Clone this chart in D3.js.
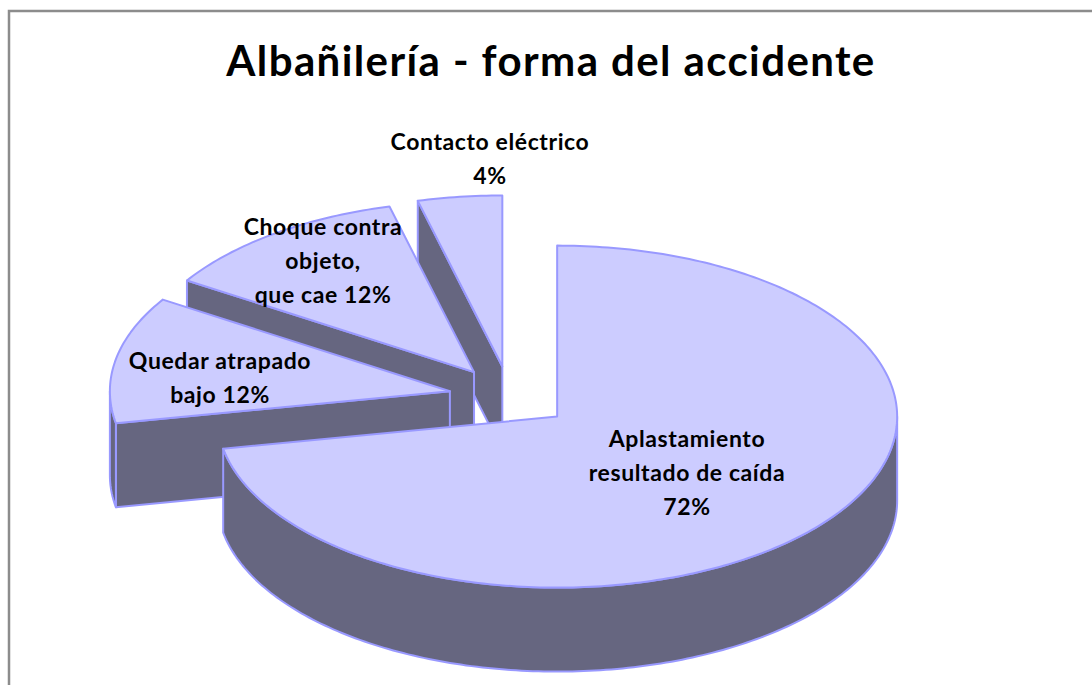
<!DOCTYPE html>
<html>
<head>
<meta charset="utf-8">
<script src="https://cdn.jsdelivr.net/npm/d3@7"></script>
<title>Albañilería - forma del accidente</title>
<style>
  html, body { margin: 0; padding: 0; background: #fff; overflow: hidden; }
  text { font-family: Lato, "Open Sans", sans-serif; font-weight: 700; fill: #000; text-anchor: middle; }
</style>
</head>
<body>
<script>
// values, in drawing order of the pie (clockwise from 12 o'clock)
var categories = ["Aplastamiento resultado de caída", "Quedar atrapado bajo", "Choque contra objeto, que cae", "Contacto eléctrico"];
var values = [72, 12, 12, 4];
var labelLines = [
  ["Aplastamiento", "resultado de caída", "72%"],
  ["Quedar atrapado", "bajo 12%"],
  ["Choque contra", "objeto,", "que cae 12%"],
  ["Contacto eléctrico", "4%"]
];
var labelPos = [[687, 447], [220, 369], [323, 235], [490, 150]];
var title = "Albañilería - forma del accidente";

var width = 1092, height = 685;
var cx = 510, cy = 397, rx = 340, ry = 171, depth = 84, explode = 0.18;
var topFill = "#ccccff", sideFill = "#666680", edge = "#9999ff";

var svg = d3.select("body").append("svg")
    .attr("width", width)
    .attr("height", height);

// chart frame, runs off the window on the right and at the bottom
svg.append("rect")
    .attr("x", 9).attr("y", 11)
    .attr("width", width + 20).attr("height", height + 20)
    .attr("fill", "#fff")
    .attr("stroke", "#8c8c8c")
    .attr("stroke-width", 2.5);

svg.append("text")
    .attr("x", 551).attr("y", 76)
    .style("font-size", "42px")
    .style("letter-spacing", "1.4px")
    .text(title);

var x = d3.scaleLinear().domain([-1, 1]).range([cx - rx, cx + rx]);
var y = d3.scaleLinear().domain([-1, 1]).range([cy - ry, cy + ry]);

var pie = d3.pie().sort(null)(values);
var line = d3.line();

// point on the tilted disc, r = 0 is the slice apex
function pt(d, a, r, drop) {
  var m = (d.startAngle + d.endAngle) / 2;
  return [
    x(explode * Math.sin(m) + r * Math.sin(a)),
    y(-explode * Math.cos(m) - r * Math.cos(a)) + (drop || 0)
  ];
}

function arcPts(d, a0, a1, drop) {
  var n = Math.max(2, Math.ceil((a1 - a0) * 60));
  return d3.range(n + 1).map(function(i) {
    return pt(d, a0 + (a1 - a0) * i / n, 1, drop);
  });
}

function face(pts, fill) {
  svg.append("path")
      .attr("d", line(pts) + "Z")
      .attr("fill", fill)
      .attr("stroke", edge)
      .attr("stroke-width", 2)
      .attr("stroke-linejoin", "round");
}

function cut(d, a) {
  face([pt(d, a, 0), pt(d, a, 1), pt(d, a, 1, depth), pt(d, a, 0, depth)], sideFill);
}

// paint back to front: the small slices first, the big one last
d3.range(pie.length - 1, -1, -1).forEach(function(i) {
  var d = pie[i];

  // a cut face shows only if going down from its top edge leaves the slice
  if (Math.sin(d.startAngle) < -1e-6) cut(d, d.startAngle);
  if (Math.sin(d.endAngle) > 1e-6) cut(d, d.endAngle);

  // outer wall, only the part that looks at the viewer
  var a0 = Math.max(d.startAngle, Math.PI / 2), a1 = Math.min(d.endAngle, Math.PI * 1.5);
  if (a1 > a0) {
    face(arcPts(d, a0, a1, 0).concat(arcPts(d, a0, a1, depth).reverse()), sideFill);
  }

  face([pt(d, d.startAngle, 0)].concat(arcPts(d, d.startAngle, d.endAngle, 0)), topFill);
});

labelLines.forEach(function(lines, i) {
  var t = svg.append("text")
      .attr("aria-label", categories[i])
      .style("font-size", "23px")
      .style("letter-spacing", "0.6px");
  lines.forEach(function(s, j) {
    t.append("tspan")
        .attr("x", labelPos[i][0])
        .attr("y", labelPos[i][1] + j * 34)
        .text(s);
  });
});
</script>
</body>
</html>
